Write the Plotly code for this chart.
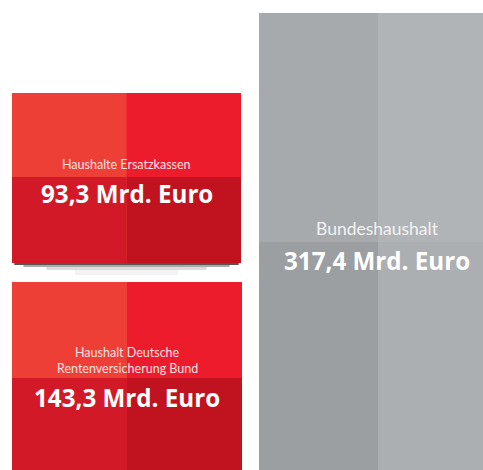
import plotly.graph_objects as go

# ---- data ----
labels = ["Haushalte Ersatzkassen",
          "Haushalt Deutsche<br>Rentenversicherung Bund",
          "Bundeshaushalt"]
values = [93.3, 143.3, 317.4]
unit = "Mrd. Euro"

# ---- layout geometry (pixel-like axis units) ----
W, H = 483, 470
boxes = [  # x0, x1, top, split, bottom
    (12, 241, 93, 177, 263),
    (12, 242, 282, 378, 476),
    (259, 497, 13, 242, 476),
]
label_y = [164, None, 228]
label_y2 = [None, (352, 368), None]
value_y = [193, 397, 260]
label_size = [12.5, 12.5, 17.5]
value_size = [24.2, 24.2, 24.2]
VFONT = "Open Sans"

red = dict(tl="#ee3f37", tr="#ec1c2d", bl="#d21928", br="#c1131f")
gray = dict(tl="#a6aaad", tr="#b0b4b7", bl="#9b9fa2", br="#abafb2")
palettes = [red, red, gray]

xs, bases, hs, ws, cols = [], [], [], [], []
for (x0, x1, top, split, bottom), pal in zip(boxes, palettes):
    xm = (x0 + x1) / 2
    # full box in right-hand colours, then the left half painted over it
    for (a, b, key_t, key_b) in [(x0, x1, "tr", "br"), (x0, xm, "tl", "bl")]:
        xs += [(a + b) / 2, (a + b) / 2]
        ws += [b - a, b - a]
        bases += [top, split]
        hs += [bottom - top, bottom - split]
        cols += [pal[key_t], pal[key_b]]

fig = go.Figure()

# shadow below first box (solid blended greys, widest/lightest drawn first)
x0, x1, top, split, bottom = boxes[0]
shadow = [(0, 12, "#f3f3f3", 0.45), (0, 7, "#dcdcdc", 0.7),
          (0, 4, "#a9a9a9", 0.9), (0, 2, "#555555", 0.98)]
for d0, d1, c, frac in shadow:
    w = (x1 - x0) * frac
    fig.add_trace(go.Bar(x=[(x0 + x1) / 2], y=[d1 - d0], base=[bottom + d0], width=[w],
                         marker=dict(color=c, line_width=0),
                         hoverinfo="skip", showlegend=False))

fig.add_trace(go.Bar(x=xs, y=hs, base=bases, width=ws,
                     marker=dict(color=cols, line_width=0),
                     hoverinfo="skip", showlegend=False))

for i, ((x0, x1, top, split, bottom), lab, v) in enumerate(zip(boxes, labels, values)):
    xc = (x0 + x1) / 2 if i < 2 else 377
    lcol = "#fbe0e0" if i < 2 else "#f2f3f4"
    if label_y2[i]:
        for ly, part in zip(label_y2[i], lab.split("<br>")):
            fig.add_annotation(x=xc, y=ly, text=part, showarrow=False,
                               font=dict(family="Lato", size=label_size[i], color=lcol))
    else:
        fig.add_annotation(x=xc, y=label_y[i], text=lab, showarrow=False,
                           font=dict(family="Lato", size=label_size[i], color=lcol))
    vt = f"{v:.1f}".replace(".", ",") + " " + unit
    fig.add_annotation(x=xc, y=value_y[i], text=vt, showarrow=False,
                       font=dict(family=VFONT, size=value_size[i], color="white", weight="bold"))

fig.update_layout(
    width=W, height=H, margin=dict(l=0, r=0, t=0, b=0),
    paper_bgcolor="white", plot_bgcolor="white", barmode="overlay",
    xaxis=dict(range=[0, W], visible=False, fixedrange=True),
    yaxis=dict(range=[H, 0], visible=False, fixedrange=True),
)
fig.write_html("out.html", config={"displayModeBar": False})
